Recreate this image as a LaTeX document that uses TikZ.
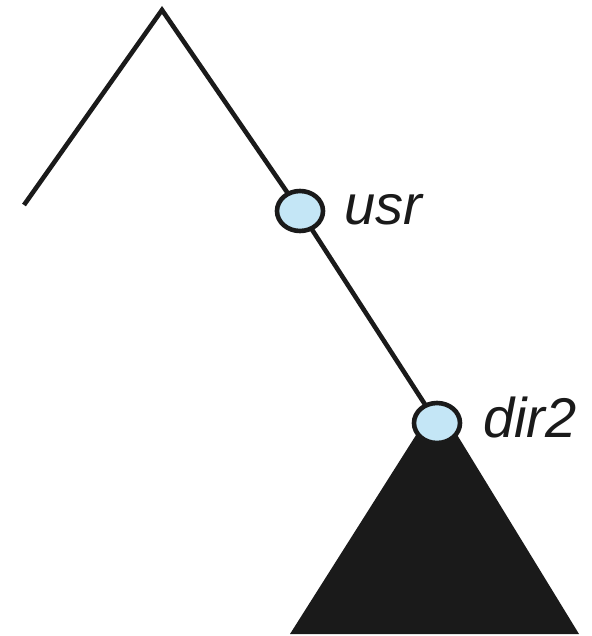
\documentclass[tikz,border=0pt]{standalone}
\usepackage{fontspec}
\usetikzlibrary{shapes.geometric}
\setmainfont{Liberation Sans}
\definecolor{nodeblue}{RGB}{196,230,246}
\definecolor{ink}{RGB}{26,26,26}
\begin{document}
\begin{tikzpicture}[x=1pt,y=-1pt,
  edge/.style={line width=4.6pt,draw=ink},
  dirnode/.style={ellipse,draw=ink,line width=4.6pt,fill=nodeblue,minimum width=46pt,minimum height=40pt,inner sep=0pt},
  label/.style={anchor=base west,inner sep=0pt,font=\fontsize{56}{56}\selectfont\itshape,text=ink}]
  \useasboundingbox (0,0) rectangle (591,636);
  % subtree below dir2
  \coordinate (sub) at (437,402);
  \coordinate (bl) at (290,634);
  \coordinate (br) at (579,634);
  \fill[ink] (sub) -- (bl) -- (br) -- cycle;
  % branches
  \coordinate (root) at (162,10);
  \coordinate (left) at (24,205);
  \coordinate (usr) at (300,211);
  \coordinate (dir2) at (437,423);
  \draw[edge,line join=miter] (left) -- (root) -- (usr) -- (dir2);
  \node[dirnode] (usrnode) at (usr) {};
  \node[dirnode] (dirnode) at (dir2) {};
  \node[label] (usrlbl) at (344,225) {usr};
  \node[label] (dirlbl) at (483,437) {dir2};
\end{tikzpicture}
\end{document}
